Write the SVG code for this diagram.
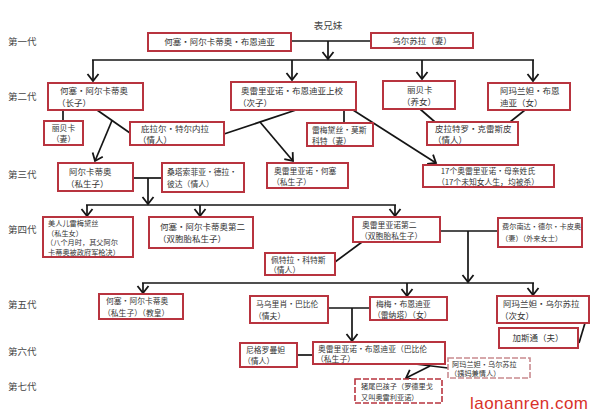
<svg xmlns="http://www.w3.org/2000/svg" width="600" height="419" viewBox="0 0 600 419">
<defs>
<style>
text{font-family:"Noto Sans CJK SC","Noto Sans",sans-serif;font-size:8.5px;fill:#333}
.c{text-anchor:middle}
.s{font-size:7.8px}
.t{font-size:7.2px}
.g{font-size:9.5px;fill:#444}
.box{fill:#fff;stroke:#b8343f;stroke-width:2}
.faint{fill:#fff;stroke:#c98a8f;stroke-width:1.6;stroke-dasharray:6 2}
.ln{fill:none;stroke:#151515;stroke-width:1.7}
.ar{fill:none;stroke:#151515;stroke-width:1.7;marker-end:url(#v)}
.wm{font-family:"Liberation Sans",sans-serif;font-size:17px;fill:#d8322a}
</style>
<marker id="v" markerUnits="userSpaceOnUse" markerWidth="12" markerHeight="14" viewBox="-9 -7 11 14" refX="0" refY="0" orient="auto">
<path d="M-7,-5.5 L0,0 L-7,5.5" fill="none" stroke="#151515" stroke-width="1.8"/>
</marker>
</defs>
<rect width="600" height="419" fill="#fff"/>

<g id="gen-labels">
<text class="g" x="8" y="45">第一代</text>
<text class="g" x="8" y="100">第二代</text>
<text class="g" x="8" y="178">第三代</text>
<text class="g" x="8" y="233">第四代</text>
<text class="g" x="8" y="308">第五代</text>
<text class="g" x="8" y="355">第六代</text>
<text class="g" x="8" y="390">第七代</text>
<text class="g" x="328" y="29" text-anchor="middle">表兄妹</text>
</g>

<g id="connectors">
<line class="ln" x1="291" y1="41" x2="371" y2="41"/>
<line class="ar" x1="328" y1="41" x2="328" y2="59"/>
<line class="ln" x1="92" y1="60" x2="534" y2="60"/>
<line class="ar" x1="93" y1="60" x2="93" y2="81"/>
<line class="ar" x1="292" y1="60" x2="292" y2="80"/>
<line class="ar" x1="422" y1="60" x2="422" y2="79"/>
<line class="ar" x1="533" y1="60" x2="533" y2="81"/>
<line class="ln" x1="63" y1="110" x2="63" y2="121"/>
<line class="ln" x1="97" y1="110" x2="130" y2="133"/>
<line class="ar" x1="112" y1="120.5" x2="95" y2="161"/>
<line class="ln" x1="296" y1="110" x2="224" y2="134"/>
<line class="ar" x1="260" y1="122" x2="293" y2="161"/>
<line class="ln" x1="344" y1="110" x2="344" y2="123"/>
<line class="ar" x1="353" y1="110" x2="436" y2="163"/>
<line class="ln" x1="420" y1="109" x2="435" y2="122"/>
<line class="ln" x1="525" y1="110" x2="510" y2="122"/>
<line class="ln" x1="133" y1="178" x2="162" y2="178"/>
<line class="ar" x1="148" y1="178" x2="148" y2="204"/>
<line class="ln" x1="86" y1="205" x2="396" y2="205"/>
<line class="ar" x1="87" y1="205" x2="87" y2="216"/>
<line class="ar" x1="200" y1="205" x2="200" y2="216"/>
<line class="ar" x1="395" y1="205" x2="395" y2="216"/>
<line class="ln" x1="440" y1="231" x2="498" y2="231"/>
<line class="ar" x1="468" y1="231" x2="468" y2="282"/>
<line class="ln" x1="142" y1="283" x2="534" y2="283"/>
<line class="ar" x1="143" y1="283" x2="143" y2="293"/>
<line class="ar" x1="407" y1="283" x2="407" y2="296"/>
<line class="ar" x1="533" y1="283" x2="533" y2="295"/>
<line class="ln" x1="362" y1="242" x2="335" y2="262"/>
<line class="ln" x1="328" y1="308" x2="370" y2="308"/>
<line class="ar" x1="352" y1="308" x2="352" y2="341"/>
<line class="ln" x1="297" y1="355" x2="313" y2="355"/>
<line class="ln" x1="585" y1="323" x2="579" y2="343"/>
<line class="ln" x1="415" y1="364" x2="448" y2="368"/>
<line class="ar" x1="430" y1="366" x2="406" y2="378"/>
</g>

<g id="n1"><rect class="box" x="148" y="33" width="143" height="18"/><text class="c" x="219.5" y="45">何塞·阿尔卡蒂奥·布恩迪亚</text></g>
<g id="n2"><rect class="box" x="371" y="33" width="102" height="15"/><text class="c" x="422" y="44">乌尔苏拉（妻）</text></g>

<g id="n3"><rect class="box" x="48" y="83" width="95" height="27"/><text x="60" y="94">何塞·阿尔卡蒂奥</text><text x="57" y="106">（长子）</text></g>
<g id="n4"><rect class="box" x="231" y="82" width="125" height="28"/><text x="241" y="94">奥雷里亚诺·布恩迪亚上校</text><text x="238" y="106">（次子）</text></g>
<g id="n5"><rect class="box" x="383" y="81" width="72" height="28"/><text x="407" y="93">丽贝卡</text><text x="402" y="105">（养女）</text></g>
<g id="n6"><rect class="box" x="488" y="83" width="82" height="27"/><text x="500" y="94">阿玛兰妲·布恩</text><text x="500" y="106">迪亚（女）</text></g>

<g id="n7"><rect class="box" x="44" y="121" width="39" height="24"/><text class="c s" x="63.5" y="131">丽贝卡</text><text class="c s" x="63.5" y="142">（妻）</text></g>
<g id="n8"><rect class="box" x="130" y="122" width="94" height="23"/><text x="141" y="132">庇拉尔·特尔内拉</text><text x="138" y="143">（情人）</text></g>
<g id="n9"><rect class="box" x="307" y="123" width="66" height="23"/><text class="s" x="312" y="133">雷梅黛丝·莫斯</text><text class="s" x="312" y="143.5">科特（妻）</text></g>
<g id="n10"><rect class="box" x="427" y="122" width="91" height="23"/><text x="435" y="132">皮拉特罗·克雷斯皮</text><text x="433" y="143">（情人）</text></g>

<g id="n11"><rect class="box" x="58" y="163" width="75" height="28"/><text x="69" y="175">阿尔卡蒂奥</text><text x="66" y="187">（私生子）</text></g>
<g id="n12"><rect class="box" x="162" y="163" width="82" height="29"/><text class="s" x="167" y="175">桑塔索菲亚·德拉·</text><text class="s" x="167" y="187">彼达（情人）</text></g>
<g id="n13"><rect class="box" x="267" y="163" width="81" height="25"/><text class="s" x="274" y="174">奥雷里亚诺·何塞</text><text class="s" x="272" y="185">（私生子）</text></g>
<g id="n14"><rect class="box" x="423" y="165" width="131" height="22"/><text class="c s" x="488" y="174">17个奥雷里亚诺·母亲姓氏</text><text class="c s" x="488" y="184.5">（17个未知女人生，均被杀）</text></g>

<g id="n15"><rect class="box" x="43" y="217" width="90" height="40"/><text class="t" x="48" y="226">美人儿雷梅黛丝</text><text class="t" x="47" y="235.5">（私生女）</text><text class="t" x="46" y="245">（八个月时，其父阿尔</text><text class="t" x="48" y="254.5">卡蒂奥被政府军枪决）</text></g>
<g id="n16"><rect class="box" x="149" y="217" width="104" height="31"/><text x="160" y="229.5">何塞·阿尔卡蒂奥第二</text><text x="158" y="242">（双胞胎私生子）</text></g>
<g id="n17"><rect class="box" x="353" y="217" width="87" height="25"/><text class="s" x="362" y="227.5">奥雷里亚诺第二</text><text class="s" x="360" y="238.5">（双胞胎私生子）</text></g>
<g id="n18"><rect class="box" x="498" y="218" width="84" height="29"/><text class="t" x="502" y="229">费尔南达·德尔·卡皮奥</text><text class="t" x="501" y="241">（妻）（外来女士）</text></g>
<g id="n19"><rect class="box" x="265" y="253" width="70" height="22"/><text class="s" x="271" y="262.5">佩特拉·科特斯</text><text class="s" x="269" y="273">（情人）</text></g>

<g id="n20"><rect class="box" x="99" y="294" width="84" height="25"/><text class="s" x="106" y="304">何塞·阿尔卡蒂奥</text><text class="s" x="103" y="315.5">（私生子）（教皇）</text></g>
<g id="n21"><rect class="box" x="250" y="296" width="78" height="27"/><text class="s" x="256" y="307">马乌里肖·巴比伦</text><text class="s" x="254" y="319">（情夫）</text></g>
<g id="n22"><rect class="box" x="370" y="297" width="77" height="23"/><text class="s" x="376" y="306.5">梅梅·布恩迪亚</text><text class="s" x="373" y="317.5">（雷纳塔）（女）</text></g>
<g id="n23"><rect class="box" x="497" y="296" width="92" height="27"/><text x="503" y="307">阿玛兰妲·乌尔苏拉</text><text x="500" y="319">（次女）</text></g>
<g id="n24"><rect class="box" x="499" y="328" width="79" height="20"/><text class="c" x="538" y="341">加斯通（夫）</text></g>

<g id="n25"><rect class="box" x="240" y="343" width="57" height="24"/><text class="s" x="246" y="353">尼格罗曼妲</text><text class="s" x="243" y="364">（情人）</text></g>
<g id="n26"><rect class="box" x="313" y="342" width="132" height="22"/><text class="s" x="318" y="351.5">奥雷里亚诺·布恩迪亚（巴比伦</text><text class="s" x="316" y="362">（私生子）</text></g>
<g id="n27"><rect class="faint" x="448" y="358" width="82" height="20"/><text class="t" x="452" y="366.5">阿玛兰妲·乌尔苏拉</text><text class="t" x="450" y="376">（姨妈兼情人）</text></g>

<g id="n28"><rect class="faint" x="355" y="379" width="87" height="24" style="stroke:#b8343f"/><text class="t" x="361" y="388.5">猪尾巴孩子（罗德里戈</text><text class="t" x="361" y="399.5">又叫奥雷利亚诺）</text></g>

<text class="wm" x="470" y="409" textLength="118">laonanren.com</text>
</svg>
